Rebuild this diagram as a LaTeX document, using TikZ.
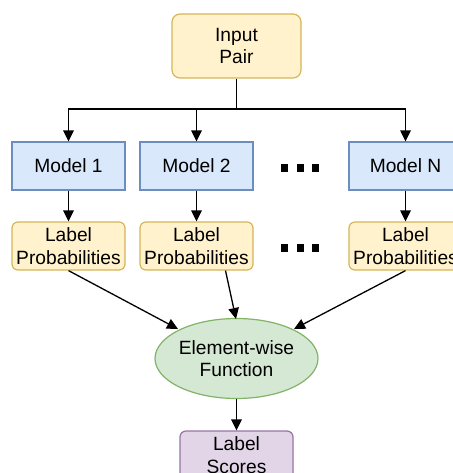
\documentclass[tikz,border=0pt]{standalone}
\usepackage{fontspec}
\setmainfont{Liberation Sans}
\usetikzlibrary{arrows.meta,shapes.geometric}
\definecolor{yfill}{HTML}{FFF2CC}\definecolor{ydraw}{HTML}{D6B656}
\definecolor{bfill}{HTML}{DAE8FC}\definecolor{bdraw}{HTML}{6C8EBF}
\definecolor{gfill}{HTML}{D5E8D4}\definecolor{gdraw}{HTML}{82B366}
\definecolor{pfill}{HTML}{E1D5E7}\definecolor{pdraw}{HTML}{9673A6}
\tikzset{
  txt/.style={font=\fontsize{19.2}{22.7}\selectfont},
  box/.style={draw, line width=1.2pt, minimum width=113pt, minimum height=48pt,
    inner sep=0pt, align=center, txt},
  rbox/.style={box, rounded corners=6pt},
  modelbox/.style={box, fill=bfill, draw=bdraw},
  probbox/.style={rbox, fill=yfill, draw=ydraw},
  conn/.style={line width=1.3pt, -{Stealth[length=11pt,width=10.5pt,inset=0pt]}},
  dot/.style={fill=black, minimum width=7pt, minimum height=8pt, inner sep=0pt}
}
\begin{document}
\begin{tikzpicture}[x=1pt,y=-1pt]
\useasboundingbox (0,0) rectangle (452,473);
% input node
\node[rbox, fill=yfill, draw=ydraw, minimum width=129pt, minimum height=64pt, rounded corners=8pt] (in) at (236.5,46) {Input\\Pair};
% models
\node[modelbox] (m1) at (68.5,166) {Model 1};
\node[modelbox] (m2) at (196.5,166) {Model 2};
\node[modelbox] (mn) at (405.5,166) {Model N};
% label probabilities
\node[probbox] (p1) at (68.5,246) {Label\\Probabilities};
\node[probbox] (p2) at (196.5,246) {Label\\Probabilities};
\node[probbox] (pn) at (405.5,246) {Label\\Probabilities};
% ellipsis markers
\foreach \r/\yy in {a/167.5,b/247.5}{
  \node[dot] (\r1) at (284,\yy) {};
  \node[dot] (\r2) at (300,\yy) {};
  \node[dot] (\r3) at (315.5,\yy) {};
}
% combining function
\node[ellipse, draw=gdraw, fill=gfill, line width=1.2pt, minimum width=161pt, minimum height=80pt,
  inner sep=0pt, align=center, txt] (f) at (236.5,358.5) {Element-wise\\Function};
% output
\node[rbox, fill=pfill, draw=pdraw] (out) at (236.5,455) {Label\\Scores};
% fan-out from the input
\coordinate (fork) at (in.south |- 0,109);
\draw[line width=1.3pt] (in.south) -- (fork);
\draw[conn] (fork) -| (m1.north);
\draw[conn] (fork) -| (m2.north);
\draw[conn] (fork) -| (mn.north);
% model outputs
\draw[conn] (m1) -- (p1);
\draw[conn] (m2) -- (p2);
\draw[conn] (mn) -- (pn);
% into the function
\coordinate (e1) at (178,329);
\coordinate (e2) at (236,319);
\coordinate (e3) at (294,329);
\draw[conn] (p1.south) -- (e1);
\draw[conn] ([xshift=29pt]p2.south) -- (e2);
\draw[conn] (pn.south) -- (e3);
\draw[conn] (f) -- (out);
\end{tikzpicture}
\end{document}
